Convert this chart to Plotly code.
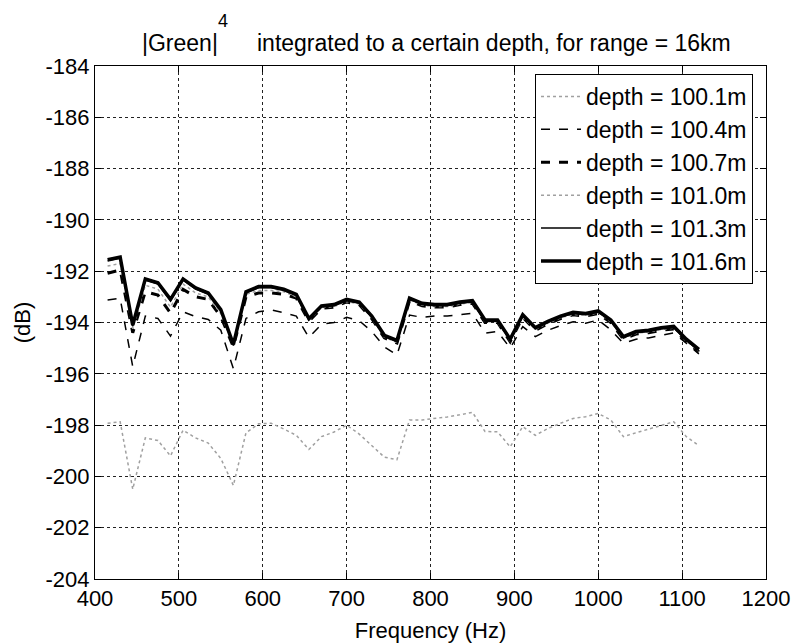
import plotly.graph_objects as go

freq = [415, 430, 445, 460, 475, 490, 505, 520, 535, 550, 565, 580, 595, 610, 625, 640,
        655, 670, 685, 700, 715, 730, 745, 760, 775, 790, 805, 820, 835, 850, 865, 880,
        895, 910, 925, 940, 955, 970, 985, 1000, 1015, 1030, 1045, 1060, 1075, 1090, 1105, 1120]

d1001 = [-197.93, -197.87, -200.5, -198.5, -198.6, -199.2, -198.2, -198.5, -198.7, -199.3,
         -200.35, -198.3, -197.95, -197.93, -198.15, -198.4, -198.95, -198.45, -198.27, -198.0,
         -198.35, -198.8, -199.25, -199.35, -197.8, -197.8, -197.75, -197.68, -197.6, -197.5,
         -198.25, -198.26, -198.85, -198.06, -198.4, -198.13, -197.93, -197.74, -197.67, -197.55,
         -197.8, -198.45, -198.3, -198.15, -198.0, -197.87, -198.45, -198.8]

d1004 = [-193.12, -193.06, -195.72, -193.75, -193.84, -194.53, -193.58, -193.77, -193.88, -194.3,
         -195.8, -193.84, -193.58, -193.51, -193.62, -193.75, -194.58, -194.07, -194.0, -193.8,
         -193.93, -194.35, -194.95, -195.27, -193.71, -193.8, -193.75, -193.75, -193.7, -193.64,
         -194.42, -194.35, -195.0, -194.16, -194.55, -194.3, -194.12, -193.97, -194.03, -193.9,
         -194.29, -194.81, -194.65, -194.6, -194.5, -194.4, -194.81, -195.23]

d1007 = [-192.08, -191.95, -194.4, -192.8, -192.93, -193.64, -192.71, -193.0, -193.1, -193.77,
         -194.95, -193.0, -192.85, -192.85, -192.9, -193.05, -193.95, -193.45, -193.4, -193.2,
         -193.3, -193.85, -194.6, -194.8, -193.15, -193.35, -193.4, -193.4, -193.3, -193.25,
         -194.0, -194.0, -194.75, -193.8, -194.3, -194.05, -193.85, -193.7, -193.75, -193.65,
         -194.0, -194.65, -194.45, -194.4, -194.3, -194.25, -194.75, -195.15]

d1010 = [-191.8, -191.7, -194.25, -192.55, -192.7, -193.4, -192.5, -192.85, -193.0, -193.65,
         -194.9, -192.9, -192.75, -192.75, -192.8, -193.0, -193.9, -193.42, -193.38, -193.18,
         -193.28, -193.82, -194.57, -194.78, -193.12, -193.32, -193.38, -193.38, -193.28, -193.22,
         -193.97, -193.97, -194.72, -193.78, -194.27, -194.02, -193.82, -193.68, -193.72, -193.62,
         -193.97, -194.62, -194.42, -194.37, -194.27, -194.22, -194.72, -195.12]

d1013 = [-191.6, -191.5, -194.15, -192.35, -192.5, -193.15, -192.35, -192.7, -192.9, -193.55,
         -194.9, -192.85, -192.65, -192.65, -192.75, -192.95, -193.9, -193.4, -193.35, -193.15,
         -193.25, -193.8, -194.55, -194.75, -193.1, -193.3, -193.35, -193.35, -193.25, -193.2,
         -193.95, -193.95, -194.7, -193.75, -194.25, -194.0, -193.8, -193.65, -193.7, -193.6,
         -193.95, -194.6, -194.4, -194.35, -194.25, -194.2, -194.7, -195.1]

d1016 = [-191.55, -191.45, -194.1, -192.3, -192.45, -193.1, -192.3, -192.65, -192.85, -193.5,
         -194.85, -192.8, -192.6, -192.6, -192.7, -192.9, -193.85, -193.35, -193.3, -193.1,
         -193.2, -193.75, -194.5, -194.7, -193.05, -193.25, -193.3, -193.3, -193.2, -193.15,
         -193.9, -193.9, -194.65, -193.7, -194.2, -193.95, -193.75, -193.6, -193.65, -193.55,
         -193.9, -194.55, -194.35, -194.3, -194.2, -194.15, -194.65, -195.05]

series_names = ["depth = 100.1m", "depth = 100.4m", "depth = 100.7m",
                "depth = 101.0m", "depth = 101.3m", "depth = 101.6m"]

x_ticks = [400, 500, 600, 700, 800, 900, 1000, 1100, 1200]
x_ticktext = ["400", "500", "600", "700", "800", "900", "1000", "1100", "1200"]
y_ticks = [-184, -186, -188, -190, -192, -194, -196, -198, -200, -202, -204]
y_ticktext = ["-184", "-186", "-188", "-190", "-192", "-194", "-196", "-198", "-200", "-202", "-204"]

styles = [
    dict(color="#a0a0a0", width=1.5, dash="dot"),
    dict(color="black", width=1.5, dash="dash"),
    dict(color="black", width=3, dash="dash"),
    dict(color="#a0a0a0", width=1.5, dash="dot"),
    dict(color="black", width=1.5, dash="solid"),
    dict(color="black", width=3.5, dash="solid"),
]

FONT = "Liberation Sans, Arial, sans-serif"

fig = go.Figure()
for name, vals, st in zip(series_names, [d1001, d1004, d1007, d1010, d1013, d1016], styles):
    fig.add_trace(go.Scatter(x=freq, y=vals, mode="lines", name=name, line=st,
                             legendgroup=name))

L, R, T, B = 95, 766, 66, 579
W, H = 794, 644

def px_x(p):
    return (p - L) / (R - L)

def px_y(p):
    return (B - p) / (B - T)

fig.update_layout(
    width=W, height=H,
    margin=dict(l=L, r=W - R, t=T, b=H - B, pad=0),
    paper_bgcolor="white", plot_bgcolor="white",
    font=dict(family=FONT, size=22, color="black"),
    showlegend=True,
    legend=dict(x=px_x(535), y=px_y(74), xanchor="left", yanchor="top",
                bgcolor="white", bordercolor="black", borderwidth=1,
                font=dict(family=FONT, size=23, color="black"),
                itemwidth=40, tracegroupgap=0),
    xaxis=dict(range=[400, 1200], tickvals=x_ticks, ticktext=x_ticktext,
               showgrid=True, gridcolor="#222222", griddash="dot", gridwidth=1,
               showline=True, linecolor="black", linewidth=1, mirror="ticks",
               ticks="inside", ticklen=6, tickcolor="black", zeroline=False,
               tickfont=dict(family=FONT, size=22), automargin=False,
               title=dict(text="Frequency (Hz)", font=dict(family=FONT, size=22), standoff=12)),
    yaxis=dict(range=[-204, -184], tickvals=y_ticks, ticktext=y_ticktext,
               showgrid=True, gridcolor="#222222", griddash="dot", gridwidth=1,
               showline=True, linecolor="black", linewidth=1, mirror="ticks",
               ticks="inside", ticklen=6, tickcolor="black", zeroline=False,
               tickfont=dict(family=FONT, size=22), automargin=False,
               title=dict(text="(dB)", font=dict(family=FONT, size=22), standoff=8)),
    annotations=[
        dict(text="|Green|", xref="paper", yref="paper", x=px_x(140), y=px_y(43),
             xanchor="left", yanchor="middle", showarrow=False,
             font=dict(family=FONT, size=23, color="black")),
        dict(text="4", xref="paper", yref="paper", x=px_x(223), y=px_y(21),
             xanchor="center", yanchor="middle", showarrow=False,
             font=dict(family=FONT, size=18, color="black")),
        dict(text="integrated to a certain depth, for range = 16km", xref="paper", yref="paper",
             x=px_x(255), y=px_y(43), xanchor="left", yanchor="middle", showarrow=False,
             font=dict(family=FONT, size=23, color="black")),
    ],
)

fig.write_html("out.html")
